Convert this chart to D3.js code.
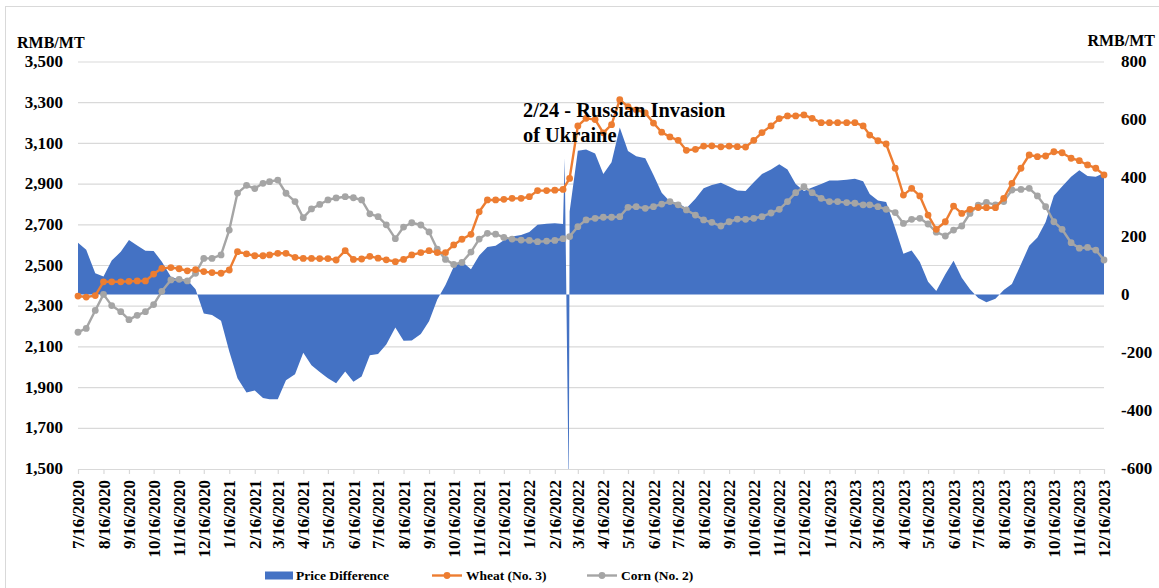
<!DOCTYPE html>
<html>
<head>
<meta charset="utf-8">
<script src="https://cdn.jsdelivr.net/npm/d3@7"></script>
<style>
  body { margin: 0; background: #fff; }
  svg { display: block; }
  text { font-family: 'Liberation Serif', 'Times New Roman', serif; font-weight: bold; fill: #000; }
</style>
</head>
<body>
<svg width="1159" height="588"></svg>
<script>
// Readings are every ~10 days (6th, 16th, 26th) from 7/16/2020 to 12/16/2023
const wheat = [
  2350, 2345,
  2352, 2420, 2420,  2420, 2422, 2424,  2424, 2458, 2486,  2490, 2484, 2474,  2480, 2470, 2465,
  2462, 2478, 2568,  2557, 2548, 2548,  2552, 2560, 2560,  2540, 2535, 2535,  2534, 2534, 2527,
  2573, 2530, 2532,  2545, 2536, 2528,  2519, 2530, 2552,  2563, 2573, 2563,  2563, 2601, 2629,
  2653, 2764, 2822,  2822, 2825, 2830,  2830, 2838, 2868,  2868, 2870, 2874,  2928, 3186, 3223,
  3217, 3152, 3192,  3315, 3280, 3265,  3250, 3200, 3155,  3132, 3115, 3066,  3071, 3087, 3088,
  3083, 3087, 3084,  3082, 3115, 3153,  3186, 3222, 3235,  3235, 3240, 3223,  3202, 3202, 3202,
  3202, 3202, 3186,  3141, 3113, 3097,  2978, 2846, 2879,  2842, 2748, 2678,  2715, 2792, 2756,
  2776, 2785, 2784,  2784, 2830, 2904,  2978, 3043, 3035,  3038, 3059, 3054,  3027, 3015, 2994,
  2978, 2945
];
const corn = [
  2172, 2191,
  2279, 2358, 2303,  2273, 2234, 2255,  2273, 2308, 2373,  2429, 2432, 2424,  2462, 2535, 2535,
  2552, 2674, 2856,  2894, 2878, 2904,  2912, 2920, 2855,  2814, 2735, 2778,  2800, 2822, 2832,
  2838, 2833, 2822,  2754, 2740, 2700,  2632, 2689, 2710,  2699, 2665, 2580,  2530, 2505, 2515,
  2566, 2630, 2658,  2654, 2638, 2630,  2625, 2623, 2617,  2620, 2623, 2632,  2642, 2691, 2724,
  2732, 2737, 2737,  2740, 2786, 2789,  2781, 2789, 2802,  2814, 2798, 2773,  2748, 2724, 2712,
  2694, 2715, 2728,  2727, 2732, 2740,  2758, 2776, 2814,  2858, 2887, 2858,  2830, 2814, 2814,
  2809, 2806, 2798,  2798, 2789, 2776,  2760, 2707, 2727,  2732, 2704, 2664,  2645, 2674, 2694,
  2756, 2797, 2810,  2798, 2814, 2871,  2874, 2879, 2842,  2789, 2715, 2678,  2612, 2585, 2589,
  2576, 2527
];
const priceDiff = [
  178, 154,
  73, 62, 117,  147, 188, 169,  151, 150, 113,  61, 52, 50,  18, -65, -70,
  -90, -196, -288,  -337, -330, -356,  -360, -360, -295,  -274, -200, -243,  -266, -288, -305,
  -265, -300, -282,  -209, -204, -172,  -113, -159, -158,  -136, -92, -17,  33, 96, 114,
  87, 134, 164,  168, 187, 200,  205, 215, 240,  244, 245, 243,  286, 495, 499,
  485, 415, 455,  575, 494, 476,  469, 411, 350,  320, 315, 297,  330, 366, 377,
  385, 372, 358,  356, 386, 415,  430, 448, 430,  380, 356, 368,  380, 392, 392,
  395, 398, 390,  346, 324, 318,  228, 140, 152,  112, 44, 12,  70, 116, 58,
  18, -12, -26,  -14, 16, 36,  104, 168, 196,  250, 340, 372,  405, 428, 408,
  405, 418
];
// annotation rows inserted around the invasion date (difference only)
const invasionDates = ['2022-02-28', '2022-03-05'];
const invasionDiff = [470, -700];

const leftTicks = [1500, 1700, 1900, 2100, 2300, 2500, 2700, 2900, 3100, 3300, 3500];
const rightTicks = [-600, -400, -200, 0, 200, 400, 600, 800];

const blue = '#4472c4';
const orange = '#ed7d31';
const gray = '#a5a5a5';
const gridColor = '#d9d9d9';

// Build dates on the 6th/16th/26th
const firstDate = new Date(2020, 6, 16);
const lastDate = new Date(2023, 11, 16);
const dates = [];
for (let m = new Date(2020, 6, 1); m <= lastDate; m = d3.timeMonth.offset(m, 1)) {
  [6, 16, 26].forEach((day) => {
    const d = new Date(m.getFullYear(), m.getMonth(), day);
    if (d >= firstDate && d <= lastDate) dates.push(d);
  });
}
const parse = d3.timeParse('%Y-%m-%d');
const rows = dates.map((d, i) => ({ date: d, wheat: wheat[i], corn: corn[i], diff: priceDiff[i] }));
invasionDates.forEach((s, i) => rows.push({ date: parse(s), wheat: null, corn: null, diff: invasionDiff[i] }));
rows.sort((a, b) => a.date - b.date);

const svg = d3.select('svg');
const plot = { left: 78, right: 1104, top: 62, bottom: 469 };

const x = d3.scaleTime().domain([firstDate, lastDate]).range([plot.left, plot.right]);
const yLeft = d3.scaleLinear().domain([1500, 3500]).range([plot.bottom, plot.top]);
const yRight = d3.scaleLinear().domain([-600, 800]).range([plot.bottom, plot.top]);

// chart frame
svg.append('rect')
  .attr('x', 5.5).attr('y', 6.5)
  .attr('width', 1160).attr('height', 600)
  .attr('fill', 'none').attr('stroke', gridColor).attr('stroke-width', 1);

svg.append('defs').append('clipPath').attr('id', 'plotClip')
  .append('rect')
  .attr('x', plot.left).attr('y', plot.top)
  .attr('width', plot.right - plot.left).attr('height', plot.bottom - plot.top);

// gridlines
svg.append('g').selectAll('line')
  .data(leftTicks.slice(1))
  .enter().append('line')
  .attr('x1', plot.left).attr('x2', plot.right)
  .attr('y1', (d) => yLeft(d)).attr('y2', (d) => yLeft(d))
  .attr('stroke', gridColor).attr('stroke-width', 1.2);

// price difference area (secondary axis)
const area = d3.area()
  .x((d) => x(d.date))
  .y0(yRight(0))
  .y1((d) => yRight(d.diff));
svg.append('path')
  .datum(rows)
  .attr('clip-path', 'url(#plotClip)')
  .attr('d', area)
  .attr('fill', blue);

// x axis
const tickDates = d3.range(42).map((k) => new Date(2020, 6 + k, 16));
const xAxis = svg.append('g')
  .attr('transform', `translate(0,${plot.bottom})`)
  .call(d3.axisBottom(x).tickValues(tickDates).tickSize(5).tickSizeOuter(0).tickFormat(d3.timeFormat('%-m/%-d/%Y')));
xAxis.select('.domain').attr('stroke', gridColor).attr('stroke-width', 1.2);
xAxis.selectAll('.tick line').attr('stroke', gridColor).attr('stroke-width', 1.2);
xAxis.selectAll('.tick text')
  .attr('transform', 'rotate(-90)')
  .attr('x', -11).attr('y', 0).attr('dy', '0.33em')
  .style('text-anchor', 'end')
  .style('font-size', '17px')
  .style('font-family', "'Liberation Serif', serif")
  .style('font-weight', 'bold')
  .attr('fill', '#000');

// series lines
function drawSeries(key, color) {
  const line = d3.line()
    .defined((d) => d[key] != null)
    .x((d) => x(d.date))
    .y((d) => yLeft(d[key]));
  const g = svg.append('g');
  const data = key === 'wheat' ? rows.filter((d) => d.wheat != null) : rows;
  g.append('path')
    .datum(data)
    .attr('d', line)
    .attr('fill', 'none')
    .attr('stroke', color)
    .attr('stroke-width', 2.4)
    .attr('stroke-linejoin', 'round');
  g.selectAll('circle')
    .data(rows.filter((d) => d[key] != null))
    .enter().append('circle')
    .attr('cx', (d) => x(d.date))
    .attr('cy', (d) => yLeft(d[key]))
    .attr('r', 3.4)
    .attr('fill', color);
}
drawSeries('corn', gray);
drawSeries('wheat', orange);

// left axis labels
svg.append('g').selectAll('text')
  .data(leftTicks)
  .enter().append('text')
  .attr('x', 63).attr('y', (d) => yLeft(d))
  .attr('dy', '0.3em')
  .attr('text-anchor', 'end')
  .style('font-size', '17px')
  .text(d3.format(','));

// right axis labels
svg.append('g').selectAll('text')
  .data(rightTicks)
  .enter().append('text')
  .attr('x', 1121).attr('y', (d) => yRight(d))
  .attr('dy', '0.3em')
  .style('font-size', '17px')
  .text((d) => d);

svg.append('text').attr('x', 17).attr('y', 48).style('font-size', '16px').text('RMB/MT');
svg.append('text').attr('x', 1155).attr('y', 46).attr('text-anchor', 'end').style('font-size', '16px').text('RMB/MT');

// annotation
const note = svg.append('text').style('font-size', '20.4px');
note.append('tspan').attr('x', 523).attr('y', 117).text('2/24 - Russian Invasion');
note.append('tspan').attr('x', 523).attr('y', 142).text('of Ukraine');

// legend
const legend = svg.append('g').style('font-size', '13.5px');
legend.append('rect').attr('x', 265).attr('y', 571.5).attr('width', 28).attr('height', 8).attr('fill', blue);
legend.append('text').attr('x', 296).attr('y', 580).text('Price Difference');
[[orange, 432, 'Wheat (No. 3)'], [gray, 587, 'Corn (No. 2)']].forEach(([c, lx, label]) => {
  legend.append('line').attr('x1', lx).attr('x2', lx + 30).attr('y1', 575.5).attr('y2', 575.5)
    .attr('stroke', c).attr('stroke-width', 2.4);
  legend.append('circle').attr('cx', lx + 15).attr('cy', 575.5).attr('r', 3.4).attr('fill', c);
  legend.append('text').attr('x', lx + 34).attr('y', 580).text(label);
});
</script>
</body>
</html>
